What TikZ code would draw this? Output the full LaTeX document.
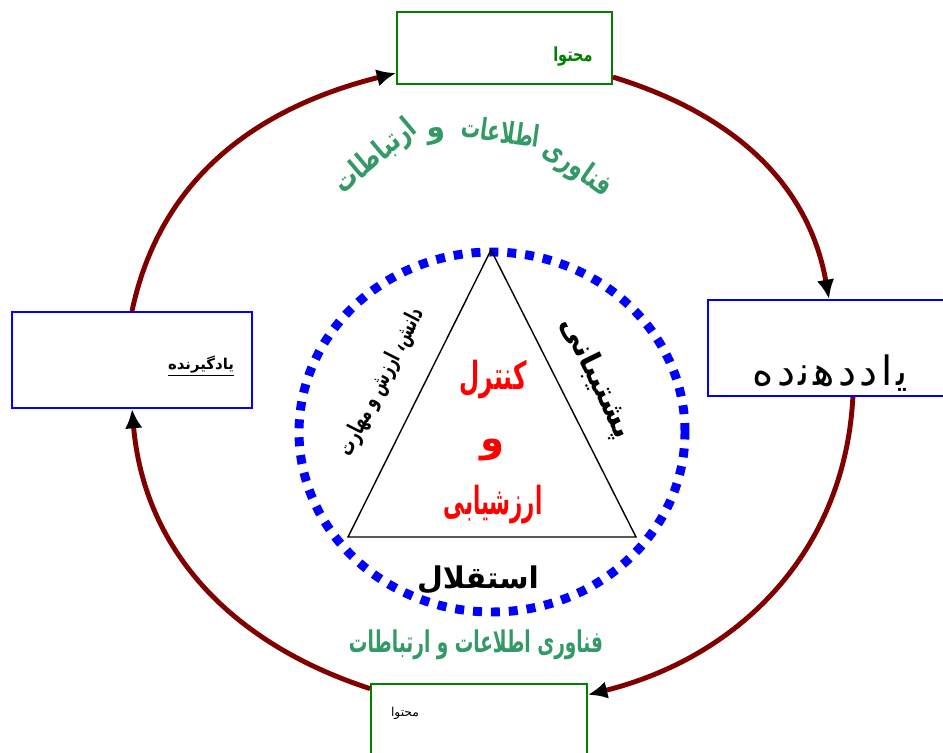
\documentclass[tikz,border=0pt]{standalone}
\usepackage{fontspec}
\usepackage{graphicx}
\usetikzlibrary{arrows.meta,positioning}
\newfontfamily\fafont[Script=Arabic]{DejaVu Sans}
\TeXXeTstate=1
\newcommand{\fatxt}[1]{{\fafont\beginR #1\endR}}
\newcommand{\lsep}{^^^^200c\kern2pt }
\newcommand{\lini}{^^^^200d^^^^200c\kern2pt }
\definecolor{arcred}{HTML}{800000}
\definecolor{itgreen}{HTML}{339966}
\definecolor{boxgreen}{HTML}{008000}

\begin{document}
\begin{tikzpicture}[x=0.02cm,y=0.02cm,
    greenbox/.style={draw=boxgreen,fill=white,line width=1.1pt,inner sep=0pt},
    bluebox/.style={draw=blue,fill=white,line width=1.1pt,inner sep=0pt},
    flow/.style={draw=arcred,line width=2.8pt,-{Latex[black,length=11pt,width=10pt]}},
    itlabel/.style={text=itgreen,font=\bfseries\fontsize{17}{20}\selectfont,inner sep=0pt},
    side/.style={font=\bfseries\fontsize{13}{15}\selectfont,inner sep=0pt},
    core/.style={text=red,font=\bfseries\fontsize{22}{26}\selectfont,inner sep=0pt}]

    \useasboundingbox (0,0) rectangle (943,-753);
    \clip (0,0) rectangle (943,-753);

    % outer cycle
    \node[bluebox,minimum width=4.8cm,minimum height=1.92cm] (lrn) at (132,-360) {};
    \node[greenbox,minimum width=4.3cm,minimum height=1.44cm] (ctop) at (504.5,-48) {};
    \node[bluebox,minimum width=4.84cm,minimum height=1.92cm] (tch) at (829,-348) {};
    \node[greenbox,minimum width=4.32cm,minimum height=1.6cm] (cbot) at (479,-724) {};

    \path (lrn.north) edge[flow,out=78,in=194] (ctop.193);
    \path (ctop.-15) edge[flow,out=-17,in=100] (tch.north);
    \path (tch.-64) edge[flow,out=-93,in=14] (cbot.15);
    \path (cbot.162) edge[flow,out=162,in=-85] (lrn.south);

    \node[text=boxgreen,font=\bfseries\fontsize{11}{13}\selectfont,inner sep=0pt,anchor=east] (ctopt) at (593,-57) {\scalebox{0.75}[1]{\fatxt{محتوا}}};
    \node[font=\fontsize{23}{27}\selectfont] (tcht) at (830,-373) {\fatxt{ی\lini ا\lsep د\lsep د\lsep ه\lini ن\lini د\lsep ه}};
    \node[font=\bfseries\fontsize{8.5}{10}\selectfont] (lrnt) at (201,-366) {\underline{\fatxt{یادگیرنده}}};
    \node[font=\fontsize{7}{9}\selectfont] (cbott) at (405,-713) {\fatxt{محتوا}};

    % ICT labels
    \node[itlabel,rotate=-35] (it1) at (577,-169) {\scalebox{0.72}[1]{\fatxt{فناوری}}};
    \node[itlabel,rotate=-8] (it2) at (501,-131) {\scalebox{0.64}[1]{\fatxt{اطلاعات}}};
    \node[itlabel,rotate=8] (it3) at (437,-136) {\fatxt{و}};
    \node[itlabel,rotate=40] (it4) at (376,-157) {\scalebox{0.75}[1]{\fatxt{ارتباطات}}};
    \node[itlabel] (itb) at (476,-645) {\scalebox{0.62}[1]{\fafont\beginR فناوری اطلاعات و ارتباطات\endR}};

    % inner circle and triangle
    \draw[blue,line width=5.1pt,dash pattern=on 5.1pt off 5.1pt] (492,-432) ellipse (193 and 180);
    \coordinate (apex) at (491,-250);
    \coordinate (bl) at (348,-537);
    \coordinate (br) at (636,-537);
    \draw[line width=0.8pt] (apex) -- (br) -- (bl) -- cycle;

    \node[side,rotate=63] (knw) at (382,-382) {\scalebox{0.66}[1]{\fafont\beginR دانش، ارزش و مهارت\endR}};
    \node[side,font=\bfseries\fontsize{17}{20}\selectfont,rotate=-64] (sup) at (596,-378) {\fatxt{پشتیبانی}};
    \node[side,font=\bfseries\fontsize{17}{20}\selectfont] (ind) at (478,-580) {\fatxt{استقلال}};

    \node[core] (c1) at (493,-380) {\scalebox{0.6}[1]{\fatxt{کنترل}}};
    \node[core] (c2) at (493,-450) {\fatxt{و}};
    \node[core] (c3) at (493,-505) {\scalebox{0.55}[1]{\fatxt{ارزشیابی}}};

\end{tikzpicture}
\end{document}
